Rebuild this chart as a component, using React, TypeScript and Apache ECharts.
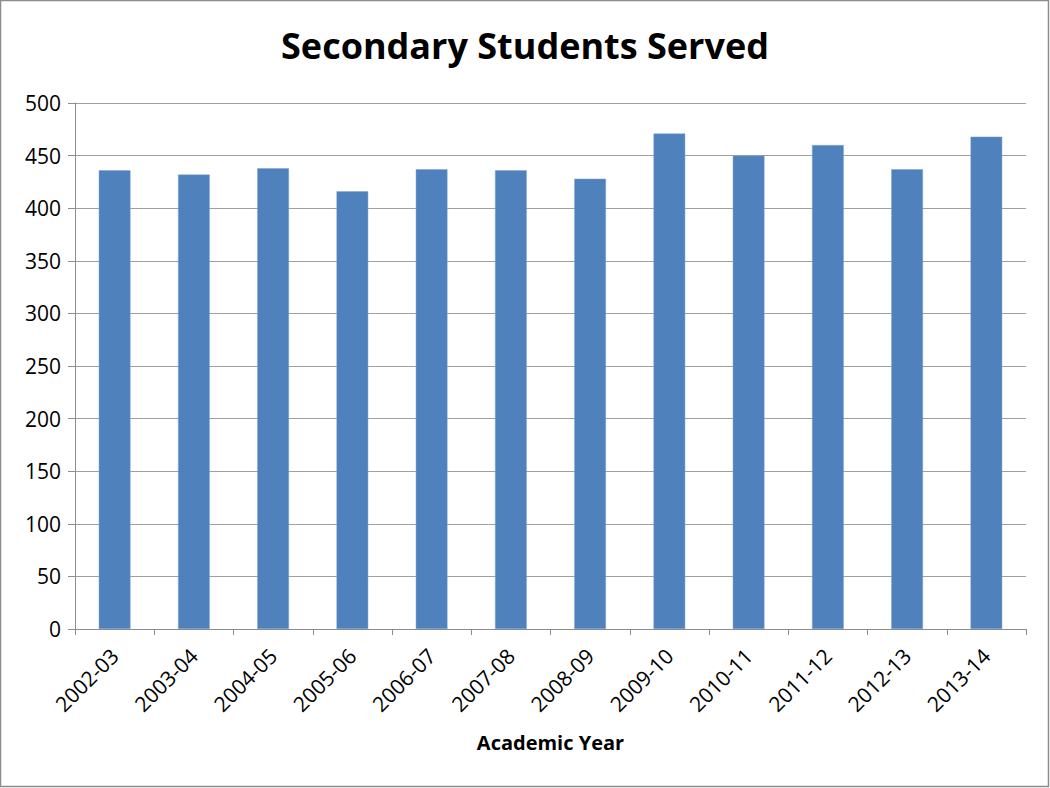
import React, { useEffect, useRef } from "react";
import * as echarts from "echarts";

const categories = ["2002-03", "2003-04", "2004-05", "2005-06", "2006-07", "2007-08", "2008-09", "2009-10", "2010-11", "2011-12", "2012-13", "2013-14"];
const students = [436, 432, 438, 416, 437, 436, 428, 471, 450, 460, 437, 468];
const yTicks = { min: 0, max: 500, interval: 50 };

export default function App() {
  const ref = useRef<HTMLDivElement>(null);
  useEffect(() => {
    document.body.style.margin = "0";
    const chart = echarts.init(ref.current!, null, { renderer: "svg" });
    chart.setOption({
      animation: false,
      backgroundColor: "#ffffff",
      title: {
        text: "Secondary Students Served",
        left: "center",
        top: 22,
        textStyle: { fontFamily: "Open Sans", fontWeight: "bold", fontSize: 36, color: "#000" },
      },
      graphic: [
        {
          type: "rect",
          shape: { x: 0.5, y: 0.5, width: 1048, height: 786 },
          style: { fill: "none", stroke: "#8c8c8c", lineWidth: 1.5 },
          silent: true,
        },
      ],
      grid: { left: 75, right: 24, top: 103, bottom: 159 },
      xAxis: {
        type: "category",
        data: categories,
        name: "Academic Year",
        nameLocation: "middle",
        nameGap: 103,
        nameTextStyle: { fontFamily: "Open Sans", fontWeight: "bold", fontSize: 20, color: "#000" },
        axisLine: { lineStyle: { color: "#8c8c8c", width: 1 } },
        axisTick: { show: true, length: 6, alignWithLabel: false, lineStyle: { color: "#8c8c8c" } },
        axisLabel: { rotate: 45, fontFamily: "Open Sans", fontSize: 21, color: "#000", margin: 23, interval: 0 },
        splitLine: { show: false },
      },
      yAxis: {
        type: "value",
        min: yTicks.min,
        max: yTicks.max,
        interval: yTicks.interval,
        axisLine: { show: true, lineStyle: { color: "#8c8c8c", width: 1 } },
        axisTick: { show: true, length: 7, lineStyle: { color: "#8c8c8c" } },
        axisLabel: { fontFamily: "Open Sans", fontSize: 21, color: "#000", margin: 14 },
        splitLine: { show: true, lineStyle: { color: "#a0a0a0", width: 1 } },
      },
      series: [
        {
          type: "bar",
          data: students,
          barWidth: "40%",
          itemStyle: { color: "#4f81bd", borderColor: "#7fa3d0", borderWidth: 0.5 },
        },
      ],
    });
    return () => chart.dispose();
  }, []);
  return <div ref={ref} style={{ width: 1050, height: 788 }} />;
}
